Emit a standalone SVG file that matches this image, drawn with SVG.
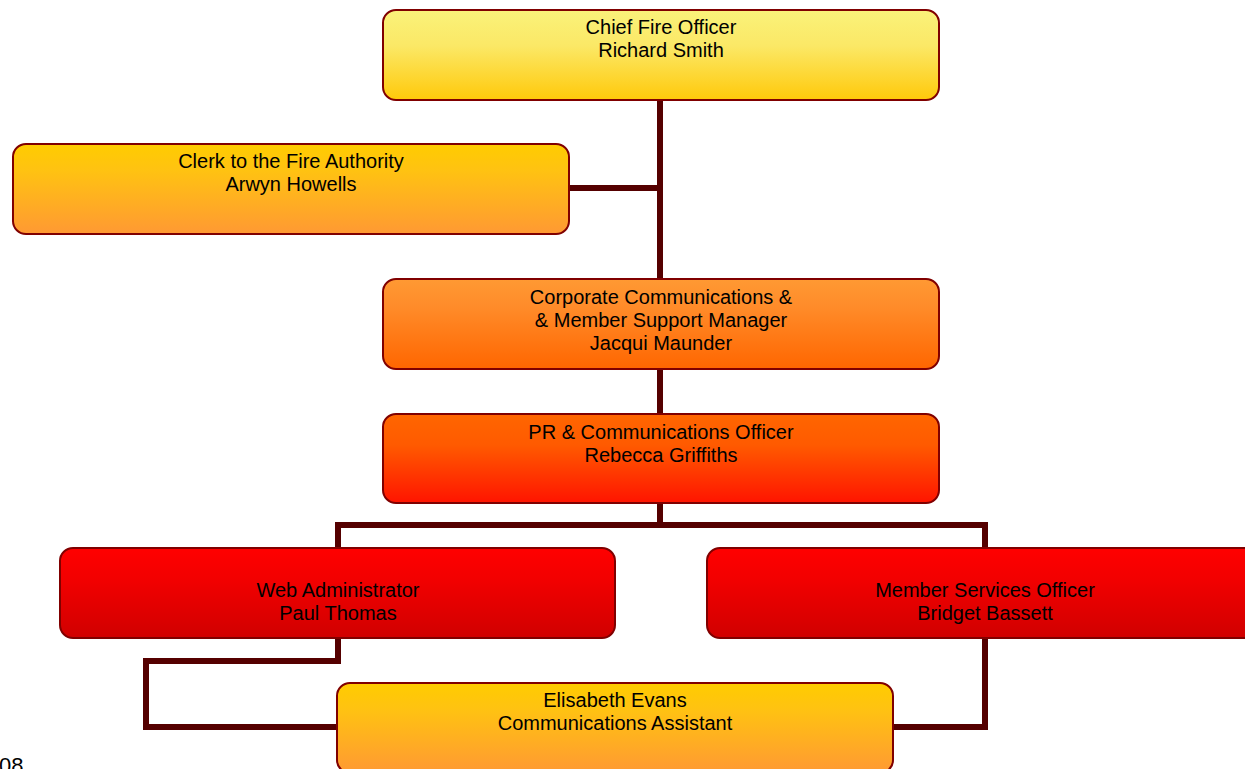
<svg xmlns="http://www.w3.org/2000/svg" width="1245" height="769" viewBox="0 0 1245 769">
<style>
.box{stroke:#800000;stroke-width:2}
.t{font-family:"Liberation Sans",Arial,sans-serif;font-size:20px;fill:#000;text-anchor:middle}
.c{fill:none;stroke:#550000;stroke-width:6;stroke-linejoin:miter}
</style>
<defs>
<linearGradient id="gY" x1="0" y1="0" x2="0" y2="1"><stop offset="0" stop-color="#faf27a"/><stop offset="0.4" stop-color="#fbe866"/><stop offset="1" stop-color="#ffc90a"/></linearGradient>
<linearGradient id="gO1" x1="0" y1="0" x2="0" y2="1"><stop offset="0" stop-color="#ffcc00"/><stop offset="0.3" stop-color="#ffc212"/><stop offset="1" stop-color="#ff9933"/></linearGradient>
<linearGradient id="gO2" x1="0" y1="0" x2="0" y2="1"><stop offset="0" stop-color="#ff9933"/><stop offset="0.3" stop-color="#ff8c2a"/><stop offset="1" stop-color="#ff6600"/></linearGradient>
<linearGradient id="gO3" x1="0" y1="0" x2="0" y2="1"><stop offset="0" stop-color="#ff6600"/><stop offset="0.35" stop-color="#ff5a00"/><stop offset="1" stop-color="#ff1400"/></linearGradient>
<linearGradient id="gR" x1="0" y1="0" x2="0" y2="1"><stop offset="0" stop-color="#ff0000"/><stop offset="0.35" stop-color="#f20000"/><stop offset="1" stop-color="#d00000"/></linearGradient>
</defs>
<g id="connectors">
<path class="c" d="M660 100 V279"/>
<path class="c" d="M569 188 H660"/>
<path class="c" d="M660 369 V414"/>
<path class="c" d="M660 503 V525"/>
<path class="c" d="M338 548 V525 H985 V548"/>
<path class="c" d="M338 638 V661 H146 V727 H337"/>
<path class="c" d="M985 638 V727 H893"/>
</g>
<g id="n-chief"><rect class="box" x="383" y="10" width="556" height="90" rx="13" fill="url(#gY)"/><text class="t" x="661" y="34">Chief Fire Officer</text><text class="t" x="661" y="57">Richard Smith</text></g>
<g id="n-clerk"><rect class="box" x="13" y="144" width="556" height="90" rx="13" fill="url(#gO1)"/><text class="t" x="291" y="168">Clerk to the Fire Authority</text><text class="t" x="291" y="191">Arwyn Howells</text></g>
<g id="n-corp"><rect class="box" x="383" y="279" width="556" height="90" rx="13" fill="url(#gO2)"/><text class="t" x="661" y="304">Corporate Communications &amp;</text><text class="t" x="661" y="327">&amp; Member Support Manager</text><text class="t" x="661" y="350">Jacqui Maunder</text></g>
<g id="n-pr"><rect class="box" x="383" y="414" width="556" height="89" rx="13" fill="url(#gO3)"/><text class="t" x="661" y="439">PR &amp; Communications Officer</text><text class="t" x="661" y="462">Rebecca Griffiths</text></g>
<g id="n-web"><rect class="box" x="60" y="548" width="555" height="90" rx="13" fill="url(#gR)"/><text class="t" x="338" y="597">Web Administrator</text><text class="t" x="338" y="620">Paul Thomas</text></g>
<g id="n-member"><rect class="box" x="707" y="548" width="556" height="90" rx="13" fill="url(#gR)"/><text class="t" x="985" y="597">Member Services Officer</text><text class="t" x="985" y="620">Bridget Bassett</text></g>
<g id="n-assistant"><rect class="box" x="337" y="683" width="556" height="90" rx="13" fill="url(#gO1)"/><text class="t" x="615" y="707">Elisabeth Evans</text><text class="t" x="615" y="730">Communications Assistant</text></g>
<text x="-1" y="773" style="font-family:'Liberation Sans',Arial,sans-serif;font-size:22px;fill:#000">08</text>
</svg>
